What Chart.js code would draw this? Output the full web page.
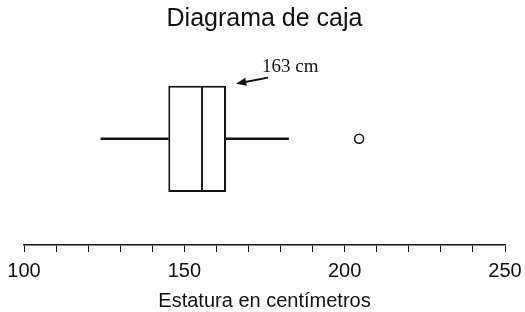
<!DOCTYPE html>
<html>
<head>
<meta charset="utf-8">
<script src="https://cdn.jsdelivr.net/npm/chart.js@4/dist/chart.umd.min.js"></script>
<style>
  html, body { margin: 0; padding: 0; background: #fff; }
  #wrap { width: 525px; height: 312px; }
</style>
</head>
<body>
<div id="wrap"><canvas id="chart-box"></canvas></div>
<script>
// Box plot values (cm)
const categories = ['Estatura'];
const whiskerLow = [124];
const q1 = [145];
const median = [155.5];
const q3 = [163];
const whiskerHigh = [182.5];
const outliers = [204.5];
const tickLabels = [100, 150, 200, 250];

const ink = '#111';

// Arrow + "163 cm" label next to the upper quartile
const q3Note = {
  id: 'q3Note',
  afterDatasetsDraw(chart) {
    const bar = chart.getDatasetMeta(3).data[0];
    if (!bar) return;
    const { y, height } = bar.getProps(['y', 'height'], true);
    const x = chart.scales.x.getPixelForValue(q3[0]);
    const top = y - height / 2;
    const ctx = chart.ctx;
    const tipX = x + 10, tipY = top - 2;
    const tailX = x + 42, tailY = top - 8;
    const ang = Math.atan2(tailY - tipY, tailX - tipX);
    ctx.save();
    ctx.strokeStyle = ink;
    ctx.fillStyle = ink;
    ctx.lineWidth = 2;
    ctx.beginPath();
    ctx.moveTo(tailX, tailY);
    ctx.lineTo(tipX + 8 * Math.cos(ang), tipY + 8 * Math.sin(ang));
    ctx.stroke();
    ctx.beginPath();
    ctx.moveTo(tipX, tipY);
    ctx.lineTo(tipX + 11 * Math.cos(ang + 0.38), tipY + 11 * Math.sin(ang + 0.38));
    ctx.lineTo(tipX + 11 * Math.cos(ang - 0.38), tipY + 11 * Math.sin(ang - 0.38));
    ctx.closePath();
    ctx.fill();
    ctx.font = '19px "Liberation Serif", "Times New Roman", serif';
    ctx.textBaseline = 'alphabetic';
    ctx.fillText(q3[0] + ' cm', x + 36, top - 14);
    ctx.restore();
  }
};

const boxStyle = {
  type: 'bar',
  backgroundColor: '#fff',
  borderColor: ink,
  borderSkipped: false,
  grouped: false,
  barPercentage: 0.5,
  categoryPercentage: 1
};
const whiskerStyle = {
  type: 'bar',
  backgroundColor: ink,
  borderWidth: 0,
  grouped: false,
  barThickness: 2
};

new Chart(document.getElementById('chart-box'), {
  type: 'bar',
  data: {
    labels: categories,
    datasets: [
      { ...whiskerStyle, data: categories.map((c, i) => [whiskerLow[i], q1[i]]) },
      { ...whiskerStyle, data: categories.map((c, i) => [q3[i], whiskerHigh[i]]) },
      {
        ...boxStyle,
        borderWidth: { top: 2, bottom: 2, left: 2, right: 1 },
        data: categories.map((c, i) => [q1[i], median[i]])
      },
      {
        ...boxStyle,
        borderWidth: { top: 2, bottom: 2, left: 1, right: 2 },
        data: categories.map((c, i) => [median[i], q3[i]])
      },
      {
        type: 'line',
        indexAxis: 'y',
        showLine: false,
        data: outliers.map(v => ({ x: v, y: categories[0] })),
        pointStyle: 'circle',
        pointRadius: 4.5,
        pointBorderWidth: 1.5,
        pointBackgroundColor: '#fff',
        pointBorderColor: ink
      }
    ]
  },
  options: {
    indexAxis: 'y',
    responsive: true,
    maintainAspectRatio: false,
    animation: false,
    layout: { padding: { left: 24, right: 20, top: 0, bottom: 0 } },
    plugins: {
      legend: { display: false },
      tooltip: { enabled: false },
      title: {
        display: true,
        text: 'Diagrama de caja',
        color: ink,
        font: { family: '"Liberation Sans", Arial, sans-serif', size: 25, weight: 'normal', lineHeight: 1.1 },
        padding: { top: 5, bottom: 0 }
      }
    },
    scales: {
      x: {
        type: 'linear',
        min: tickLabels[0],
        max: tickLabels[tickLabels.length - 1],
        position: 'bottom',
        border: { display: true, color: ink, width: 1.5 },
        grid: { drawOnChartArea: false, drawTicks: true, tickLength: 7, color: ink, lineWidth: 1 },
        ticks: {
          stepSize: 10,
          autoSkip: false,
          maxRotation: 0,
          padding: 3,
          color: ink,
          font: { family: '"Liberation Sans", Arial, sans-serif', size: 20, lineHeight: 1.6 },
          callback: v => (tickLabels.includes(v) ? String(v) : '')
        },
        title: {
          display: true,
          text: 'Estatura en centímetros',
          color: ink,
          font: { family: '"Liberation Sans", Arial, sans-serif', size: 20, lineHeight: 1.1 },
          padding: { top: 0, bottom: 0 }
        }
      },
      y: {
        display: false
      }
    }
  },
  plugins: [q3Note]
});
</script>
</body>
</html>
